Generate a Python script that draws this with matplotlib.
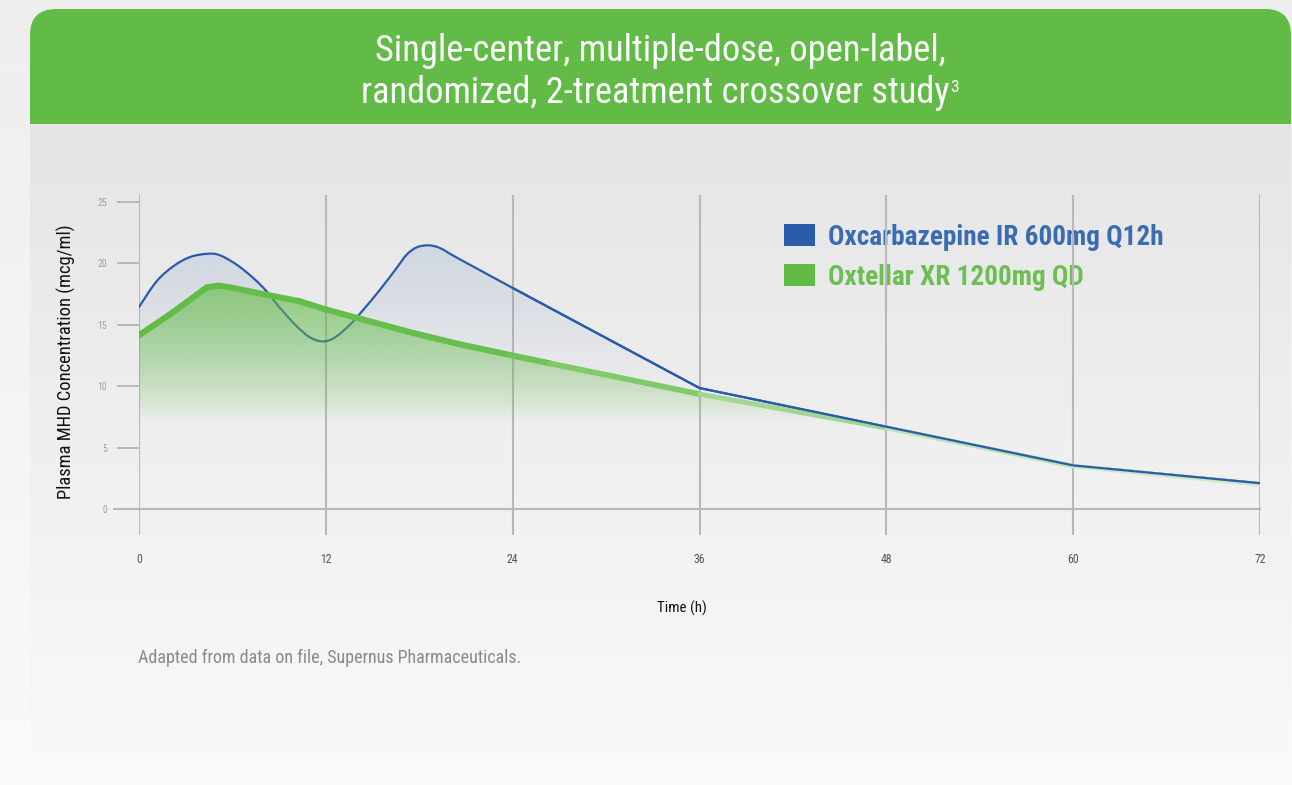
import numpy as np
import matplotlib
matplotlib.use("Agg")
import matplotlib.pyplot as plt
from matplotlib import font_manager
from matplotlib.patches import FancyBboxPatch, Rectangle, PathPatch
from matplotlib.collections import LineCollection
from matplotlib.colors import to_rgb
from matplotlib.path import Path

# ───────────────────────── dados ─────────────────────────
tempo_ir = [0, 1.13, 2.2, 3.28, 4.45, 5.2, 6.27, 7.34, 8.2, 9.06, 10.13, 10.98,
            11.8, 12.59, 13.55, 14.41, 15.48, 16.55, 17.19, 17.84, 18.58, 19.33,
            20.51, 24, 36, 48, 60, 72]
conc_ir = [16.45, 18.54, 19.76, 20.52, 20.79, 20.66, 19.9, 18.81, 17.72, 16.37,
           14.88, 13.98, 13.65, 13.98, 15.01, 16.23, 17.86, 19.63, 20.71, 21.31,
           21.47, 21.25, 20.4, 18.0, 9.85, 6.7, 3.55, 2.1]

tempo_xr = [0, 2.2, 4.35, 5.1, 5.84, 7.98, 10.34, 12.05, 14.41, 17.62, 20.51,
            23.83, 26.4, 36, 48, 60, 72]
conc_xr = [14.14, 16.04, 18.05, 18.19, 18.05, 17.5, 16.91, 16.23, 15.42, 14.33,
           13.44, 12.54, 11.86, 9.36, 6.6, 3.5, 2.0]

x_ticks = [0, 12, 24, 36, 48, 60, 72]
y_ticks = [0, 5, 10, 15, 20, 25]
series = ["Oxcarbazepine IR 600mg Q12h", "Oxtellar XR 1200mg QD"]

titulo_1 = "Single-center, multiple-dose, open-label,"
titulo_2 = "randomized, 2-treatment crossover study"
nota = "Adapted from data on file, Supernus Pharmaceuticals."

# ───────────────────────── estilo ─────────────────────────
AZUL = "#2a5caa"
AZUL_TXT = "#3a6cb4"
VERDE = "#62bb46"
VERDE_TXT = "#6cbf52"
GRADE = "#b8b8b8"

disponiveis = {f.name for f in font_manager.fontManager.ttflist}
COND = next((f for f in ["Roboto Condensed", "Liberation Sans Narrow", "DejaVu Sans Condensed"]
             if f in disponiveis), "Roboto")

W, H = 1292, 785
fig = plt.figure(figsize=(W / 100, H / 100), dpi=100)

# ───────────────────────── fundo (coordenadas em pixels) ─────────────────
bg = fig.add_axes([0, 0, 1, 1])
bg.axis("off")


def degrade(c0, c1, n=256):
    t = np.linspace(0, 1, n)[:, None, None]
    a, b = np.array(to_rgb(c0)), np.array(to_rgb(c1))
    return a + (b - a) * t


bg.imshow(degrade("#eeeeee", "#fafafa"), extent=[0, W, H, 0], aspect="auto", zorder=0)

painel = FancyBboxPatch((30, 9), 1261, 900, boxstyle="round,pad=0,rounding_size=26",
                        facecolor="none", edgecolor="none")
bg.add_patch(painel)
img_p = bg.imshow(degrade("#e5e5e5", "#fafafa"), extent=[30, 1291, H, 124],
                  aspect="auto", zorder=1)
img_p.set_clip_path(painel)
cab = Rectangle((30, 9), 1261, 115, facecolor=VERDE, edgecolor="none", zorder=2)
bg.add_patch(cab)
cab.set_clip_path(painel)
bg.set_xlim(0, W)
bg.set_ylim(H, 0)

# título
bg.text(660, 61, titulo_1, color="white", fontsize=26.2, family=COND,
        ha="center", va="baseline", zorder=3)
t2 = bg.text(655, 103, titulo_2, color="white", fontsize=26.2, family=COND,
             ha="center", va="baseline", zorder=3)
fig.canvas.draw()
ext = t2.get_window_extent()
bg.text(ext.x1 + 1, 92, "3", color="white", fontsize=12.5, family=COND,
        ha="left", va="baseline", zorder=3)

# legenda
for i, (nome, cq, ct) in enumerate(zip(series, [AZUL, VERDE], [AZUL_TXT, VERDE_TXT])):
    y0 = 224 + 40 * i
    bg.add_patch(Rectangle((784, y0), 31, 22, facecolor=cq, edgecolor="none", zorder=3))
    bg.text(828, y0 + 21, nome, color=ct, fontsize=19.6, family=COND, weight="bold",
            ha="left", va="baseline", zorder=3)

bg.text(66, 362, "Plasma MHD Concentration (mcg/ml)", rotation=90, fontsize=13.3,
        family=COND, color="#111111", ha="center", va="center", zorder=3)
bg.text(682, 608, "Time (h)", fontsize=10.8, family=COND, color="#111111",
        ha="center", va="center", zorder=3)
bg.text(138, 658, nota, fontsize=13, family=COND, color="#8a8a8a",
        ha="left", va="center", zorder=3)

# ───────────────────────── gráfico ─────────────────────────
PX_Y = 12.28
ax = fig.add_axes([139 / W, 1 - 535 / H, 1121 / W, 340 / H])
ax.patch.set_alpha(0)
for s in ax.spines.values():
    s.set_visible(False)

XLIM = (0, 72)
YLIM = (-26 / PX_Y, 314 / PX_Y)


def caminho_suave(xs, ys, n_suave):
    """Catmull-Rom -> Bezier nos primeiros n_suave pontos, retas no resto."""
    P = np.column_stack([xs, ys]).astype(float)
    verts, codes = [P[0]], [Path.MOVETO]
    for i in range(n_suave - 1):
        p0 = P[i - 1] if i > 0 else P[i]
        p1, p2 = P[i], P[i + 1]
        p3 = P[i + 2] if i + 2 < len(P) else p2
        verts += [p1 + (p2 - p0) / 6, p2 - (p3 - p1) / 6, p2]
        codes += [Path.CURVE4] * 3
    for p in P[n_suave:]:
        verts.append(p)
        codes.append(Path.LINETO)
    return verts, codes


def preenche_degrade(verts, codes, cor, alfa_fn, z):
    v = list(verts) + [(verts[-1][0], 0), (verts[0][0], 0), (0, 0)]
    c = list(codes) + [Path.LINETO, Path.LINETO, Path.CLOSEPOLY]
    clip = PathPatch(Path(v, c), transform=ax.transData, facecolor="none", edgecolor="none")
    ax.add_patch(clip)
    yy = np.linspace(0, 25, 400)
    rgba = np.zeros((400, 1, 4))
    rgba[..., :3] = to_rgb(cor)
    rgba[:, 0, 3] = alfa_fn(yy)
    im = ax.imshow(rgba, extent=[0, 72, 0, 25], origin="lower", aspect="auto",
                   zorder=z, interpolation="bilinear")
    im.set_clip_path(clip)


n_suave = tempo_ir.index(24)
v_ir, c_ir = caminho_suave(tempo_ir, conc_ir, n_suave)
v_xr, c_xr = caminho_suave(tempo_xr, conc_xr, 1)

preenche_degrade(v_ir, c_ir, AZUL,
                 lambda y: 0.12 * np.clip((y - 9) / 11.5, 0, 1), 2)
ax.add_patch(PathPatch(Path(v_ir, c_ir), facecolor="none", edgecolor=AZUL, lw=1.6,
                       zorder=3, capstyle="round", joinstyle="round"))
preenche_degrade(v_xr, c_xr, VERDE,
                 lambda y: 0.6 * np.clip((y - 7.3) / 9.7, 0, 1.03) ** 0.7, 4)

# linha verde: clareia e afina depois de ~24 h
pts = np.column_stack([tempo_xr, conc_xr])
segs = np.stack([pts[:-1], pts[1:]], axis=1)
meio = (pts[:-1, 0] + pts[1:, 0]) / 2
paradas_x = [0, 22, 36, 48, 72]
paradas_c = [to_rgb(VERDE), to_rgb("#68bf4f"), to_rgb("#8ccf78"), to_rgb("#b8dfaa"),
             to_rgb("#d3eacb")]
cores = np.array([[np.interp(m, paradas_x, [c[k] for c in paradas_c]) for k in range(3)]
                  for m in meio])
larg = np.interp(meio, [0, 26, 40, 72], [4.4, 4.4, 3.6, 3.0])
lc = LineCollection(segs, colors=cores, linewidths=larg, capstyle="round",
                    joinstyle="round", zorder=5)
ax.add_collection(lc)

# parte final da curva azul por cima da verde
ax.plot(tempo_ir[n_suave:], conc_ir[n_suave:], color=AZUL, lw=1.6, zorder=6,
        solid_capstyle="round")

ax.axhline(0, xmin=-25 / 1121, xmax=1, color=GRADE, lw=1.5, clip_on=False, zorder=1)
ax.set_xticks(x_ticks)
ax.set_yticks(y_ticks)
ax.grid(axis="x", color=GRADE, lw=1.5)
ax.set_axisbelow(True)
ax.tick_params(axis="x", length=0, pad=13, labelsize=8.5, labelcolor="#555555")
ax.tick_params(axis="y", length=16, width=1.4, color=GRADE, pad=7, labelsize=7,
               labelcolor="#a0a0a0")
for lab in ax.get_xticklabels() + ax.get_yticklabels():
    lab.set_family(COND)
ax.set_xlim(*XLIM)
ax.set_ylim(*YLIM)

fig.savefig("out.png", dpi=100)
